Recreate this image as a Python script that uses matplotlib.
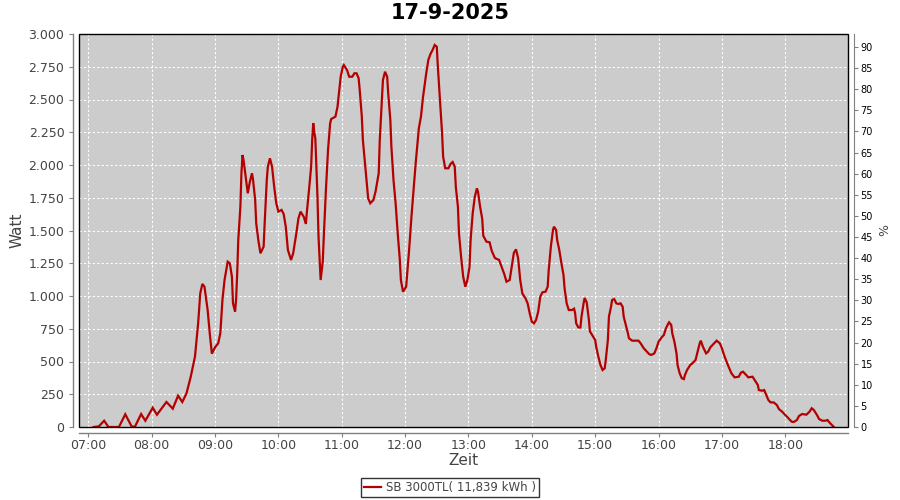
import matplotlib
matplotlib.use("Agg")
import matplotlib.pyplot as plt
from matplotlib.patches import Rectangle
import numpy as np

plt.rcParams['font.family'] = ['DejaVu Sans']

title = "17-9-2025"
series_label = "SB 3000TL( 11,839 kWh )"

times = [
    "07:05", "07:10", "07:15", "07:19", "07:29", "07:35", "07:41", "07:44", "07:50", "07:54",
    "08:01", "08:05", "08:14", "08:20", "08:25", "08:29", "08:33", "08:37", "08:41", "08:44",
    "08:46", "08:48", "08:50", "08:53", "08:55", "08:57", "09:00", "09:03", "09:05", "09:07",
    "09:09", "09:12", "09:14", "09:16", "09:17", "09:19", "09:20", "09:21", "09:22", "09:24",
    "09:25", "09:26", "09:27", "09:29", "09:31", "09:33", "09:35", "09:36", "09:38", "09:39",
    "09:41", "09:43", "09:46", "09:47", "09:49", "09:50", "09:52", "09:54", "09:56", "09:58",
    "10:00", "10:03", "10:05", "10:07", "10:09", "10:12", "10:14", "10:17", "10:19", "10:21",
    "10:24", "10:26", "10:27", "10:29", "10:31", "10:32", "10:33", "10:34", "10:35", "10:37",
    "10:38", "10:40", "10:42", "10:43", "10:45", "10:47", "10:49", "10:50", "10:54", "10:56",
    "10:57", "10:59", "11:01", "11:02", "11:05", "11:07", "11:10", "11:12", "11:14", "11:16",
    "11:17", "11:19", "11:20", "11:22", "11:24", "11:25", "11:27", "11:30", "11:32", "11:35",
    "11:36", "11:38", "11:39", "11:41", "11:43", "11:44", "11:46", "11:47", "11:49", "11:51",
    "11:53", "11:55", "11:56", "11:58", "12:01", "12:02", "12:04", "12:06", "12:08", "12:10",
    "12:12", "12:13", "12:15", "12:17", "12:20", "12:22", "12:24", "12:26", "12:28", "12:30",
    "12:31", "12:33", "12:35", "12:36", "12:38", "12:41", "12:43", "12:45", "12:47", "12:48",
    "12:50", "12:51", "12:53", "12:55", "12:57", "12:59", "13:01", "13:02", "13:04", "13:06",
    "13:08", "13:09", "13:11", "13:13", "13:14", "13:17", "13:20", "13:22", "13:25", "13:29",
    "13:31", "13:34", "13:36", "13:39", "13:41", "13:43", "13:45", "13:47", "13:49", "13:51",
    "13:54", "13:56", "13:58", "14:00", "14:02", "14:04", "14:06", "14:08", "14:10", "14:13",
    "14:15", "14:16", "14:18", "14:20", "14:21", "14:23", "14:24", "14:26", "14:28", "14:30",
    "14:31", "14:33", "14:35", "14:38", "14:40", "14:41", "14:42", "14:44", "14:46", "14:47",
    "14:49", "14:50", "14:52", "14:54", "14:55", "14:58", "15:00", "15:01", "15:03", "15:05",
    "15:07", "15:09", "15:10", "15:12", "15:13", "15:15", "15:16", "15:18", "15:20", "15:22",
    "15:24", "15:26", "15:27", "15:29", "15:31", "15:32", "15:35", "15:41", "15:43", "15:46",
    "15:49", "15:51", "15:53", "15:56", "15:58", "16:00", "16:03", "16:05", "16:07", "16:09",
    "16:10", "16:12", "16:13", "16:15", "16:17", "16:18", "16:20", "16:22", "16:24", "16:25",
    "16:27", "16:30", "16:32", "16:35", "16:37", "16:39", "16:40", "16:42", "16:45", "16:47",
    "16:49", "16:52", "16:55", "16:58", "17:00", "17:02", "17:05", "17:07", "17:09", "17:12",
    "17:16", "17:18", "17:20", "17:23", "17:25", "17:29", "17:31", "17:34", "17:35", "17:38",
    "17:40", "17:42", "17:44", "17:46", "17:49", "17:52", "17:54", "17:57", "18:00", "18:03",
    "18:06", "18:08", "18:11", "18:13", "18:16", "18:20", "18:23", "18:25", "18:27", "18:30",
    "18:32", "18:35", "18:38", "18:40", "18:42", "18:45", "18:46",
]

watts = [
    0, 5, 48, 0, 0, 97, 5, 0, 99, 48,
    147, 94, 191, 140, 239, 191, 257, 384, 537, 791,
    1020, 1092, 1071, 893, 715, 560, 608, 639, 715, 969,
    1122, 1262, 1250, 1147, 944, 880, 982, 1173, 1427, 1682,
    1937, 2076, 2038, 1911, 1784, 1873, 1937, 1886, 1733, 1555,
    1427, 1326, 1376, 1555, 1886, 1987, 2051, 1987, 1835, 1708,
    1644, 1657, 1626, 1529, 1351, 1275, 1326, 1479, 1593, 1644,
    1605, 1550, 1644, 1810, 1987, 2191, 2320, 2250, 2200, 1758,
    1453, 1122, 1262, 1453, 1810, 2115, 2318, 2351, 2369, 2445,
    2522, 2674, 2750, 2763, 2725, 2674, 2674, 2700, 2700, 2662,
    2573, 2369, 2191, 2013, 1835, 1746, 1708, 1733, 1797, 1937,
    2191, 2496, 2649, 2712, 2674, 2547, 2344, 2140, 1886, 1708,
    1479, 1275, 1122, 1033, 1071, 1173, 1376, 1605, 1810, 2013,
    2191, 2280, 2369, 2522, 2700, 2802, 2847, 2878, 2916, 2903,
    2750, 2496, 2242, 2063, 1975, 1975, 2008, 2023, 1987, 1835,
    1682, 1479, 1300, 1147, 1071, 1122, 1224, 1427, 1631, 1758,
    1822, 1797, 1682, 1590, 1460, 1415, 1410, 1345, 1290, 1275,
    1230, 1165, 1109, 1122, 1224, 1330, 1356, 1290, 1122, 1020,
    982, 944, 868, 804, 791, 817, 880, 995, 1028, 1033,
    1071, 1199, 1376, 1504, 1529, 1504, 1427, 1351, 1250, 1160,
    1059, 944, 893, 893, 903, 868, 791, 760, 760, 840,
    944, 985, 950, 820, 730, 690, 664, 610, 537, 473,
    435, 448, 511, 664, 842, 918, 969, 977, 944, 939,
    944, 918, 842, 779, 715, 677, 659, 659, 639, 601,
    575, 557, 550, 562, 601, 651, 685, 702, 753, 786,
    799, 779, 715, 651, 562, 473, 410, 372, 366, 397,
    435, 473, 486, 511, 575, 639, 659, 613, 562, 575,
    608, 634, 659, 639, 601, 550, 486, 448, 410, 379,
    384, 415, 422, 397, 379, 384, 359, 321, 282, 277,
    282, 244, 206, 188, 188, 168, 137, 117, 92, 66,
    41, 38, 53, 84, 99, 94, 117, 143, 130, 92,
    61, 48, 48, 53, 33, 8, 0,
]

hour_ticks = [7, 8, 9, 10, 11, 12, 13, 14, 15, 16, 17, 18]
hour_labels = ["07:00", "08:00", "09:00", "10:00", "11:00", "12:00",
               "13:00", "14:00", "15:00", "16:00", "17:00", "18:00"]
watt_ticks = [0, 250, 500, 750, 1000, 1250, 1500, 1750, 2000, 2250, 2500, 2750, 3000]
watt_labels = ["0", "250", "500", "750", "1.000", "1.250", "1.500", "1.750",
               "2.000", "2.250", "2.500", "2.750", "3.000"]
pct_ticks = list(range(0, 95, 5))

x = np.array([int(t[:2]) + int(t[3:]) / 60.0 for t in times])
y = np.array(watts, dtype=float)

fig = plt.figure(figsize=(9, 5), dpi=100)
fig.patch.set_facecolor("white")
ax = fig.add_axes([79/900, 1-427/500, (848-79)/900, (427-34)/500])
ax.set_facecolor("#CCCCCC")

line_color = "#B40000"
ln, = ax.plot(x, y, color=line_color, lw=1.6, solid_joinstyle="miter", label=series_label, zorder=3)

ax.set_xlim(6.853, 18.99)
ax.set_ylim(0, 3000)
ax.set_xticks(hour_ticks)
ax.set_xticklabels(hour_labels)
ax.set_yticks(watt_ticks)
ax.set_yticklabels(watt_labels)

ax.grid(True, color="white", linestyle=(0, (2, 2)), lw=0.8, zorder=1)
ax.set_axisbelow(True)

gray = "#808080"
txtgray = "#444444"
for s in ["left", "bottom"]:
    ax.spines[s].set_position(("outward", 4))
    ax.spines[s].set_color(gray)
    ax.spines[s].set_linewidth(1.0)
ax.spines["top"].set_visible(False)
ax.spines["right"].set_visible(False)
ax.tick_params(axis="both", colors=gray, labelcolor=txtgray, labelsize=9, length=3, width=0.8)
ax.tick_params(axis="x", pad=1.5)

ax.add_patch(Rectangle((0, 0), 1, 1, transform=ax.transAxes, fill=False,
                       edgecolor="black", lw=1.0, zorder=5, clip_on=False))

ax.set_xlabel("Zeit", fontsize=11, color=txtgray, labelpad=1)
ax.set_ylabel("Watt", fontsize=11, color=txtgray, labelpad=3)

ax2 = ax.twinx()
ax2.set_ylim(0, 93.08)
ax2.set_yticks(pct_ticks)
ax2.set_yticklabels([str(v) for v in pct_ticks])
for s in ["left", "top", "bottom"]:
    ax2.spines[s].set_visible(False)
ax2.spines["right"].set_position(("outward", 4))
ax2.spines["right"].set_color(gray)
ax2.tick_params(axis="y", colors=gray, labelcolor="black", labelsize=7, length=3, width=0.8, pad=2)
ax2.set_ylabel("%", fontsize=9, color=txtgray, labelpad=4)

fig.suptitle(title, x=0.5, y=1-13/500, va="center", fontsize=15, fontweight="bold", color="black")

leg = fig.legend(handles=[ln], labels=[series_label], loc="center",
                 bbox_to_anchor=(0.5, 1-487.5/500), frameon=True, fancybox=False,
                 fontsize=8.5, handlelength=1.5, handletextpad=0.4, borderpad=0.25,
                 borderaxespad=0)
leg.get_frame().set_edgecolor("black")
leg.get_frame().set_linewidth(1.0)
for t in leg.get_texts():
    t.set_color(txtgray)

fig.savefig("out.png", dpi=100)
